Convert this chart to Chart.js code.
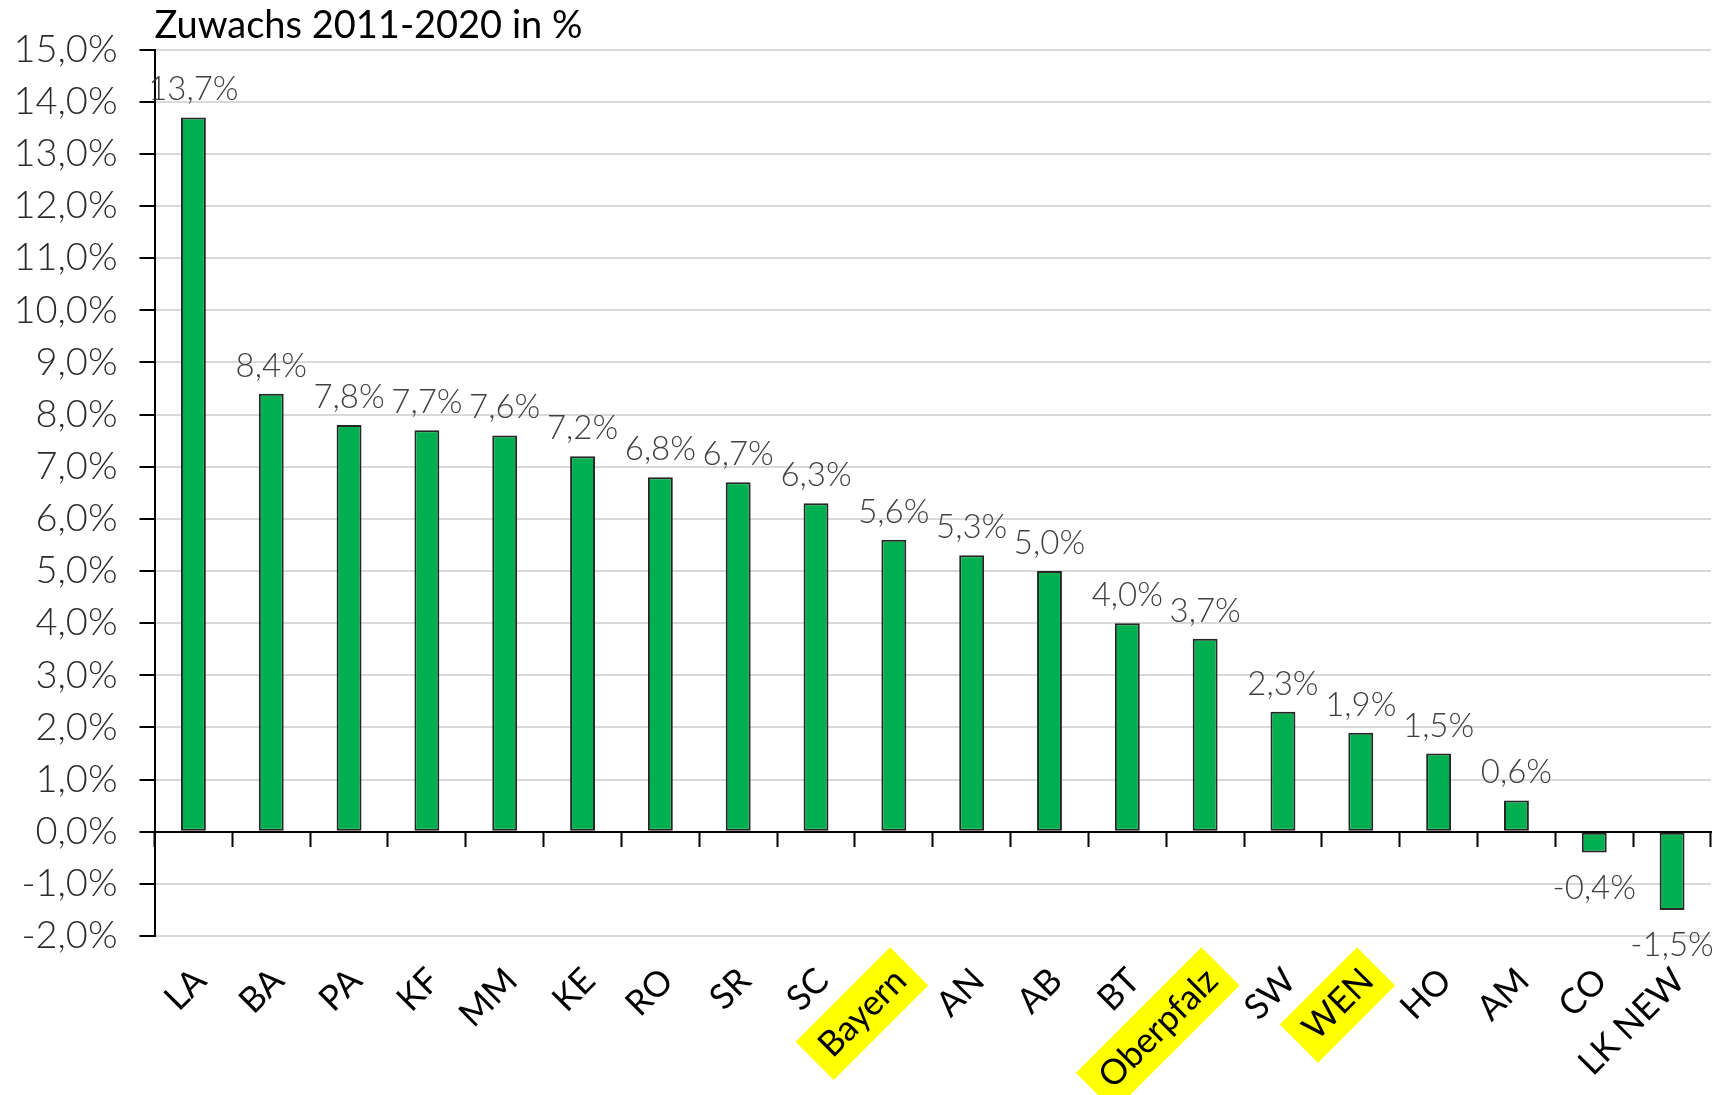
<!DOCTYPE html>
<html lang="de">
<head>
<meta charset="utf-8">
<title>Zuwachs 2011-2020 in %</title>
<script src="https://cdn.jsdelivr.net/npm/chart.js@4.4.1/dist/chart.umd.min.js"></script>
<style>
  html, body { margin: 0; padding: 0; background: #fff; }
  #wrap { width: 1716px; height: 1095px; position: relative; }
</style>
</head>
<body>
<div id="wrap"><canvas id="chart"></canvas></div>
<script>
const categories = ["LA", "BA", "PA", "KF", "MM", "KE", "RO", "SR", "SC", "Bayern",
  "AN", "AB", "BT", "Oberpfalz", "SW", "WEN", "HO", "AM", "CO", "LK NEW"];
const values = [13.7, 8.4, 7.8, 7.7, 7.6, 7.2, 6.8, 6.7, 6.3, 5.6,
  5.3, 5.0, 4.0, 3.7, 2.3, 1.9, 1.5, 0.6, -0.4, -1.5];
const highlighted = ["Bayern", "Oberpfalz", "WEN"];
const yMin = -2;
const yMax = 15;

// 13.7 -> "13,7%"
function fmt(v) {
  return v.toFixed(1).replace(".", ",") + "%";
}

// value labels above / below the bars
const valueLabels = {
  id: "valueLabels",
  afterDatasetsDraw(chart) {
    const ctx = chart.ctx;
    const meta = chart.getDatasetMeta(0);
    ctx.save();
    ctx.font = "300 33px Lato";
    ctx.fillStyle = "#404040";
    ctx.textAlign = "center";
    ctx.textBaseline = "alphabetic";
    meta.data.forEach((bar, i) => {
      const v = values[i];
      const y = v >= 0 ? bar.y - 17 : bar.y + 46;
      ctx.fillText(fmt(v), bar.x, y);
    });
    ctx.restore();
  }
};

new Chart(document.getElementById("chart"), {
  type: "bar",
  data: {
    labels: categories,
    datasets: [{
      data: values,
      backgroundColor: "#00b050",
      borderColor: "#262626",
      borderWidth: 2,
      borderSkipped: false,
      barPercentage: 0.32,
      categoryPercentage: 1,
      xAxisID: "x",
      yAxisID: "y"
    }]
  },
  options: {
    responsive: true,
    maintainAspectRatio: false,
    animation: false,
    layout: { padding: { left: 0, right: 5, top: 0, bottom: 0 } },
    plugins: {
      legend: { display: false },
      tooltip: { enabled: false },
      title: {
        display: true,
        text: "Zuwachs 2011-2020 in %",
        align: "start",
        fullSize: false,
        color: "#000",
        font: { family: "Lato", size: 38, weight: "normal" },
        padding: { top: 3, bottom: 1 }
      }
    },
    scales: {
      x: {
        type: "category",
        position: "bottom",
        offset: true,
        grid: { display: false, drawTicks: false },
        border: { display: false },
        ticks: {
          autoSkip: false,
          minRotation: 45,
          maxRotation: 45,
          padding: 24,
          labelOffset: -8,
          color: "#000",
          font: { family: "Lato", size: 35 },
          showLabelBackdrop: true,
          backdropColor: c => highlighted.includes(categories[c.index]) ? "#ffff00" : "rgba(0,0,0,0)",
          backdropPadding: { top: 6, bottom: 6, left: 14, right: 12 }
        },
        afterFit: s => {
          s.height = 159;
          s.paddingLeft = 0;
          s.paddingRight = 0;
        }
      },
      x2: {
        type: "category",
        axis: "x",
        position: { y: 0 },
        offset: true,
        ticks: { display: false },
        grid: {
          offset: true,
          drawOnChartArea: false,
          drawTicks: true,
          tickLength: 14,
          tickColor: "#000",
          tickWidth: 2
        },
        border: { color: "#000", width: 2, z: 1 },
        afterFit: s => {
          s.paddingLeft = 0;
          s.paddingRight = 0;
        }
      },
      y: {
        min: yMin,
        max: yMax,
        ticks: {
          stepSize: 1,
          padding: 22,
          color: "#2b2b2b",
          font: { family: "Lato", size: 38, weight: "300" },
          callback: v => fmt(v)
        },
        grid: {
          color: "#d9d9d9",
          lineWidth: 2,
          tickColor: "#000",
          tickLength: 15,
          tickWidth: 2
        },
        border: { color: "#000", width: 2 },
        afterFit: s => { s.width = 154.5; }
      }
    }
  },
  plugins: [valueLabels]
});
</script>
</body>
</html>
